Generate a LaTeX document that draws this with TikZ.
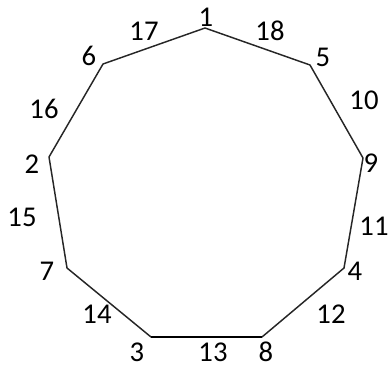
\documentclass[tikz,border=0pt]{standalone}
\usepackage{fontspec}
\setmainfont{Carlito}
\colorlet{edgecol}{black!85}
\tikzstyle{edge}=[edgecol,line width=1.1pt,line join=round]
\tikzstyle{lbl}=[font=\fontsize{21.5}{21.5}\selectfont,inner sep=0pt]

\begin{document}
\begin{tikzpicture}[x=0.75pt,y=-0.75pt]
  \useasboundingbox (0,0) rectangle (388,367);
  % corners of the nonagon
  \coordinate (c1) at (205,28);
  \coordinate (c5) at (310,65);
  \coordinate (c9) at (363,158);
  \coordinate (c4) at (344,268);
  \coordinate (c8) at (262,337);
  \coordinate (c3) at (151,337);
  \coordinate (c7) at (67,268);
  \coordinate (c2) at (49,157);
  \coordinate (c6) at (103,64);
  \draw[edge] (c8) -- (c4) -- (c9) -- (c5) -- (c1) -- (c6) -- (c2) -- (c7) -- (c3);
  \draw[edge,black,line width=2.2pt] (c3) -- (c8);
  % corner numbers
  \node[lbl] (n1) at (206,17) {1};
  \node[lbl] (n5) at (323,57) {5};
  \node[lbl] (n9) at (371,163) {9};
  \node[lbl] (n4) at (355,271) {4};
  \node[lbl] (n8) at (266,352) {8};
  \node[lbl] (n3) at (137,352) {3};
  \node[lbl] (n7) at (47,271) {7};
  \node[lbl] (n2) at (32,164) {2};
  \node[lbl] (n6) at (89,56) {6};
  % side numbers
  \node[lbl] (s18) at (270,31) {18};
  \node[lbl] (s10) at (364,100) {10};
  \node[lbl] (s11) at (374,226) {11};
  \node[lbl] (s12) at (331,314) {12};
  \node[lbl] (s13) at (213,352) {13};
  \node[lbl] (s14) at (97,314) {14};
  \node[lbl] (s15) at (22,217) {15};
  \node[lbl] (s16) at (44,109) {16};
  \node[lbl] (s17) at (144,31) {17};
\end{tikzpicture}
\end{document}
